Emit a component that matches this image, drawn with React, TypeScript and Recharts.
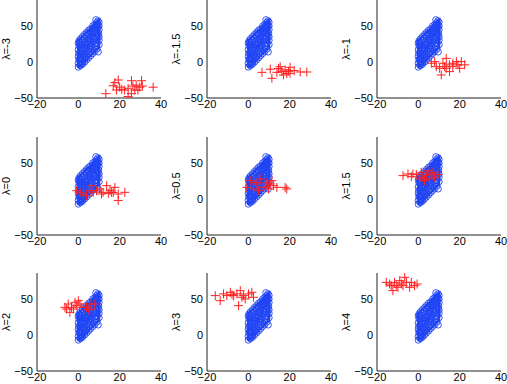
import { ScatterChart, Scatter, XAxis, YAxis } from 'recharts';

const BLUE = '#1f44f5';
const RED = '#ff1f1f';

const LAMBDAS = ['-3', '-1.5', '-1', '0', '0.5', '1.5', '2', '3', '4'];
const X_TICKS = [-20, 0, 20, 40];
const Y_TICKS = [-50, 0, 50];

// outline of the blue cluster (dense edge)
const BLUE_OUTLINE: [number, number][] = [
  [0, -8], [0, 30], [10, 58], [10, 20], [0, -8],
];

const BLUE_POINTS: [number, number][] = [
  [0, -7], [0, -2], [0.3, 3], [0, 8], [0.2, 12], [0, 17], [0.4, 22], [0, 26], [0.3, 29],
  [1, 32], [2, 35], [3, 38], [4, 41], [5, 44], [6, 46], [7, 50], [8, 52], [9, 55], [9.5, 57],
  [10, 55], [10, 50], [10, 45], [9.8, 40], [10, 35], [10, 30], [10, 24],
  [9, 18], [8, 15], [7, 12], [6, 9], [5, 6], [4, 3], [3, 0], [2, -3], [1, -5],
  [2, 5], [3, 10], [2, 15], [4, 12], [5, 18], [3, 20], [1, 10], [6, 22], [4, 25], [7, 28],
  [5, 30], [8, 32], [6, 35], [8, 40], [7, 42], [9, 45], [5, 38], [3, 28], [2, 24], [1, 20],
  [9, 30], [8, 25], [6, 15], [4, 33], [7, 35], [9, 48], [8, 46], [6, 28], [3, 15], [1, 2],
  [8.5, 58.5], [0.5, 27], [9.6, 14],
  [1, 6], [2, 10], [1.5, 16], [2.5, 20], [3.5, 24], [4.5, 28], [5.5, 33], [6.5, 38], [7.5, 44],
  [8.5, 50], [1, 25], [2, 29], [3, 33], [4, 37], [5, 40], [6, 42], [7, 46], [8, 49], [9, 52],
  [2, 0], [3, 4], [4, 8], [5, 12], [6, 18], [7, 20], [8, 22], [9, 26], [9.5, 36], [9, 40],
  [8.5, 36], [7.5, 32], [6.5, 25], [5.5, 22], [4.5, 16], [3.5, 6], [2.5, 9], [1.5, -2],
  [0.8, -4], [4, 20], [5, 25], [6, 31], [7, 39], [8, 43], [9.5, 50], [3, 24], [2, 19],
  [1, 14], [0.5, 4],
];

const RED_M3: [number, number][] = [
  [13.3, -44], [17.7, -28.7], [19.3, -25], [16.9, -33], [20, -35], [24.1, -36.5], [25.7, -26],
  [24.1, -48], [27.3, -39], [28, -32], [29.7, -35], [30.6, -26], [36.2, -35], [18.5, -39],
  [21, -38], [22.4, -39], [26.4, -33.5], [28.8, -39], [31, -33.5], [25.7, -44],
];
const RED_M1_5: [number, number][] = [
  [6.6, -14.4], [10.6, -10], [11.4, -22.7], [15.4, -6.5], [16.2, -13.4], [17.8, -11],
  [20.2, -7.4], [20.2, -15.7], [22.2, -12], [25.1, -13.9], [28.3, -13.9], [13.8, -14.4],
  [17, -18], [18.6, -16], [14.6, -9], [19.4, -13],
];
const RED_M1: [number, number][] = [
  [6.3, -1.8], [8.7, -6.5], [11.1, -18], [11.9, -1.8], [13.5, 5], [15.1, -4], [16.7, -6.5],
  [15.1, -13.4], [18.4, 0.5], [19.2, -4], [20, -8.8], [20.8, 0.5], [22.4, -4], [10.3, -8.8],
  [7.9, 0.5], [13.5, -8.8], [16.7, -1.8], [12.7, -6.5],
];
const RED_0: [number, number][] = [
  [-0.8, 11.5], [0.8, 9.2], [2.4, 6.9], [6.4, 18.5], [7.2, 9.2], [8.8, 11.5], [10.4, 13.9],
  [12, 9.2], [13.7, 18.5], [15.3, 11.5], [16.1, 9.2], [17.7, 16.1], [19.3, 6.9], [19.3, -2],
  [22.5, 9.2], [4, 4.6], [11.2, 6.9], [14.5, 7.8], [16.9, 9.2], [5.6, 11.5],
];
const RED_0_5: [number, number][] = [
  [0.9, 25.4], [2.5, 13.9], [4.2, 20.8], [5.7, 27.8], [7.3, 16.1], [9, 23], [10.6, 20.8],
  [11.4, 25.4], [12.2, 18.5], [13.8, 16.1], [17.8, 16.1], [18.6, 13.9], [5, 11.5], [8.2, 16.1],
  [3.4, 23], [-0.7, 16.1], [9.8, 13.9],
];
const RED_1_5: [number, number][] = [
  [-7.4, 32.4], [-5, 34.7], [-3.4, 31], [-1, 33.8], [1.4, 37], [2.2, 30], [3.9, 32.4],
  [4.6, 39.3], [6.3, 34.7], [7.9, 30], [9.5, 33.8], [3, 25.4], [0.6, 27.8], [-2.6, 34.7],
  [5.4, 27.8], [7.1, 37],
];
const RED_2: [number, number][] = [
  [-6.5, 38.4], [-4.9, 43], [-4.1, 31.4], [-3.3, 38.4], [-1.6, 45.3], [-0.8, 40.7], [0.8, 43],
  [1.6, 38.4], [-2.4, 36], [4, 38.4], [5.6, 43], [6.4, 36], [8, 43], [4.8, 35], [0, 47.5],
  [-5.7, 36],
];
const RED_3: [number, number][] = [
  [-16, 54.6], [-13.6, 47.6], [-12, 57], [-10.4, 54.6], [-8.7, 59.2], [-7.1, 54.6], [-5.5, 57],
  [-4.7, 40.7], [-3.9, 61.5], [-2.3, 54.6], [-1.5, 50], [0.1, 57], [1.7, 59.2], [2.5, 52.3],
  [-3.1, 52.3], [-7.9, 55.9],
];
const RED_4: [number, number][] = [
  [-15.5, 73], [-13.9, 70.7], [-12.3, 61.5], [-11.5, 73], [-10.7, 68.4], [-9, 75.4],
  [-8.2, 70.7], [-6.6, 80], [-5.8, 73], [-4.2, 66.1], [-3.4, 73], [-0.6, 70.7], [-13.1, 68.4],
  [-9.9, 66.1], [-7.4, 68.4], [-1.8, 68.4],
];

const RED_SETS = [RED_M3, RED_M1_5, RED_M1, RED_0, RED_0_5, RED_1_5, RED_2, RED_3, RED_4];

const COL_LEFT = [0, 170, 340];
const ROW_TOP = [0, 137, 273];

const toPts = (pts: [number, number][]) => pts.map(([x, y]) => ({ x, y }));
const fmt = (v: number) => String(v).replace('-', '\u2212');

const Circle = (p: any) => (
  <circle cx={p.cx} cy={p.cy} r={3.2} fill="none" stroke={BLUE} strokeWidth={0.9} />
);
const Plus = (p: any) => (
  <path
    d={`M${p.cx - 4.5},${p.cy}h9M${p.cx},${p.cy - 4.5}v9`}
    stroke={RED}
    strokeWidth={1}
    fill="none"
  />
);
const Empty = () => <g />;

const Panel = ({ lambda, red }: { lambda: string; red: [number, number][] }) => (
  <ScatterChart width={170} height={111} margin={{ top: 0, right: 9, bottom: 0, left: 0 }}>
    <XAxis
      type="number"
      dataKey="x"
      domain={[-20, 40]}
      ticks={X_TICKS}
      interval={0}
      allowDataOverflow
      height={13}
      tickSize={0}
      tickMargin={2}
      tickFormatter={fmt}
      axisLine={{ stroke: '#222' }}
      tickLine={false}
      tick={{ fill: '#000', fontSize: 11 }}
    />
    <YAxis
      type="number"
      dataKey="y"
      domain={[-50, 86]}
      ticks={Y_TICKS}
      interval={0}
      allowDataOverflow
      width={37}
      tickSize={2}
      tickMargin={2}
      tickFormatter={fmt}
      axisLine={{ stroke: '#222' }}
      tickLine={false}
      tick={{ fill: '#000', fontSize: 11 }}
      label={{
        value: `λ=${lambda}`,
        angle: -90,
        position: 'insideLeft',
        offset: 6,
        style: { textAnchor: 'middle', fontSize: 11, fill: '#000' },
      }}
    />
    <Scatter
      data={toPts(BLUE_OUTLINE)}
      line={{ stroke: BLUE, strokeWidth: 2.4 }}
      lineType="joint"
      shape={Empty}
      isAnimationActive={false}
    />
    <Scatter data={toPts(BLUE_POINTS)} shape={Circle} isAnimationActive={false} />
    <Scatter data={toPts(red)} shape={Plus} isAnimationActive={false} />
  </ScatterChart>
);

export default function App() {
  return (
    <div
      style={{
        position: 'absolute',
        left: 0,
        top: 0,
        width: 507,
        height: 384,
        overflow: 'hidden',
        background: '#fff',
        fontFamily: '"Liberation Sans", Arial, sans-serif',
      }}
    >
      {LAMBDAS.map((l, i) => (
        <div
          key={l}
          style={{ position: 'absolute', left: COL_LEFT[i % 3], top: ROW_TOP[Math.floor(i / 3)] }}
        >
          <Panel lambda={l} red={RED_SETS[i]} />
        </div>
      ))}
    </div>
  );
}
